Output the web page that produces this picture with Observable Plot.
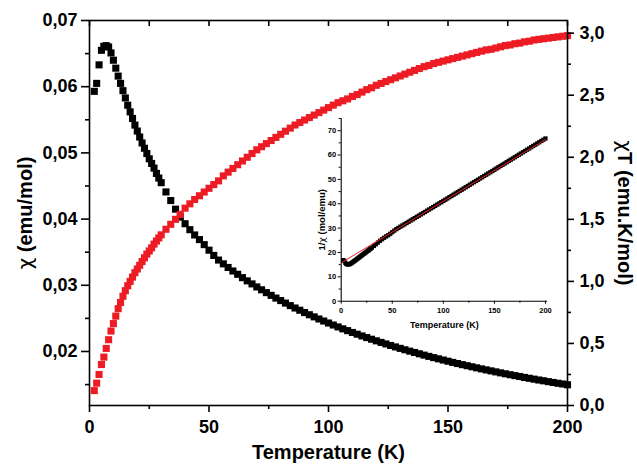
<!DOCTYPE html>
<html>
<head>
<meta charset="utf-8">
<script src="https://cdn.jsdelivr.net/npm/d3@7"></script>
<script src="https://cdn.jsdelivr.net/npm/@observablehq/plot@0.6"></script>
<style>
html, body { margin: 0; padding: 0; background: #fff; }
#wrap { position: relative; width: 637px; height: 464px; }
#main { position: absolute; left: 0; top: 0; }
#inset { position: absolute; left: 290px; top: 100px; }
svg { font-family: "Liberation Sans", Arial, sans-serif; overflow: visible; }
svg text { font-weight: bold; fill: #000; }
tspan.chi { font-family: "DejaVu Sans", sans-serif; font-weight: normal; }
</style>
</head>
<body>
<div id="wrap"><div id="main"></div><div id="inset"></div></div>
<script>
// Temperature (K)
const temperature = [2,3,4,5,6,7,8,9,10,11,12,13,14,15,16,17,18,19,20,21,22,23,24,25,26,27,28,29,30,
  32,34,36,38,40,42,44,46,48,50,52,54,56,58,60,62,64,66,68,70,72,74,76,78,80,82,84,86,88,90,92,94,96,98,100,
  102,104,106,108,110,112,114,116,118,120,122,124,126,128,130,132,134,136,138,140,142,144,146,148,150,
  152,154,156,158,160,162,164,166,168,170,172,174,176,178,180,182,184,186,188,190,192,194,196,198,200];
// chi (emu/mol), black squares, left axis
const chi = [0.0593,0.0605,0.0633,0.0655,0.0661,0.0662,0.0660,0.0651,0.0640,0.0628,0.0616,0.0605,0.0594,0.0583,0.0572,0.0562,0.0552,0.0542,0.0533,0.0524,0.0515,0.0507,0.0499,0.0491,0.0484,0.0477,0.0469,0.0462,0.0455,
  0.0441,0.0428,0.0415,0.0403,0.0393,0.0384,0.0376,0.0369,0.03614,0.03530,0.03451,0.03381,0.03324,0.03269,0.03216,0.03166,0.03115,0.03067,0.03021,0.02975,0.02932,0.02889,0.02848,0.02807,0.02769,0.02731,0.02693,0.02657,0.02623,0.02588,0.02555,0.02523,0.02491,0.02460,0.02430,
  0.02400,0.02371,0.02342,0.02315,0.02287,0.02261,0.02235,0.02210,0.02185,0.02161,0.02137,0.02114,0.02091,0.02069,0.02047,0.02026,0.02005,0.01985,0.01965,0.01945,0.01926,0.01907,0.01889,0.01871,0.01853,
  0.01835,0.01818,0.01801,0.01785,0.01769,0.01753,0.01737,0.01722,0.01707,0.01692,0.01677,0.01663,0.01649,0.01635,0.01622,0.01608,0.01595,0.01582,0.01569,0.01557,0.01544,0.01532,0.01520,0.01509,0.01497];
// chi*T (emu.K/mol), red squares, right axis
const chiT = [0.12,0.18,0.25,0.33,0.39,0.46,0.53,0.60,0.66,0.72,0.78,0.83,0.88,0.925,0.965,1.00,1.035,1.07,1.10,1.13,1.16,1.19,1.22,1.245,1.27,1.30,1.325,1.35,1.375,
  1.42,1.46,1.50,1.54,1.59,1.625,1.66,1.69,1.72,1.75,1.78,1.81,1.85,1.88,1.91,1.94,1.97,2.00,2.03,2.06,2.085,2.11,2.135,2.16,2.185,2.21,2.235,2.26,2.28,2.30,2.32,2.34,2.36,2.38,2.40,
  2.42,2.44,2.455,2.47,2.49,2.505,2.525,2.545,2.56,2.58,2.595,2.61,2.625,2.64,2.655,2.67,2.685,2.70,2.715,2.73,2.74,2.755,2.765,2.775,2.785,
  2.795,2.805,2.815,2.825,2.835,2.845,2.855,2.865,2.87,2.88,2.89,2.90,2.905,2.915,2.92,2.93,2.935,2.945,2.95,2.955,2.96,2.965,2.97,2.975,2.98];
// Inset linear fit of 1/chi
const fitT = [1, 200];
const fitInvChi = [16.0, 66.3];

// Tick values
const xTicks = [0, 50, 100, 150, 200];
const xMinor = [25, 75, 125, 175];
const leftTicks = [0.02, 0.03, 0.04, 0.05, 0.06, 0.07];
const leftMinor = [0.015, 0.025, 0.035, 0.045, 0.055, 0.065];
const rightTicks = [0, 0.5, 1.0, 1.5, 2.0, 2.5, 3.0];
const rightMinor = [0.25, 0.75, 1.25, 1.75, 2.25, 2.75];
const insetXTicks = [0, 50, 100, 150, 200];
const insetXMinor = [25, 75, 125, 175];
const insetYTicks = [0, 10, 20, 30, 40, 50, 60, 70];
const insetYMinor = [5, 15, 25, 35, 45, 55, 65, 75];

// Labels
const xLabel = "Temperature (K)";
const yLeftLabel = "χ (emu/mol)";
const yRightLabel = "χT (emu.K/mol)";
const insetYLabel = "1/χ (mol/emu)";

const leftDomain = [0.01184, 0.07];
const rightDomain = [0, 3.102];

const RED = "#ed1c24";
const data = temperature.map((T, i) => ({T, chi: chi[i], chiT: chiT[i]}));
const fit = fitT.map((T, i) => ({T, v: fitInvChi[i]}));
const conv = d3.scaleLinear().domain(rightDomain).range(leftDomain);
const comma = (d, n) => d.toFixed(n).replace(".", ",");
const none = () => "";
const title = {text: d => d, textAnchor: "middle", lineAnchor: "middle", fontWeight: "bold"};

const main = Plot.plot({
  width: 637, height: 464,
  marginLeft: 89, marginRight: 70, marginTop: 20, marginBottom: 59,
  style: {background: "transparent", color: "#000", fontFamily: "Liberation Sans, Arial, sans-serif"},
  x: {domain: [0, 200], axis: null},
  y: {domain: leftDomain, axis: null},
  marks: [
    Plot.dot(data, {x: "T", y: "chi", symbol: "square", r: 4.0, fill: "#000", stroke: "none"}),
    Plot.dot(data, {x: "T", y: d => conv(d.chiT), symbol: "square", r: 4.0, fill: RED, stroke: "none"}),
    Plot.frame({stroke: "#000", strokeWidth: 1.6}),
    Plot.axisX(xTicks, {anchor: "bottom", tickSize: 7, tickPadding: 8, fontSize: 18, strokeWidth: 1.6, tickFormat: d => String(d), label: null}),
    Plot.axisX(xMinor, {anchor: "bottom", tickSize: 4, strokeWidth: 1.6, tickFormat: none, label: null}),
    Plot.axisX([...xTicks, ...xMinor], {anchor: "top", tickSize: 5, dy: 5, strokeWidth: 1.6, tickFormat: none, label: null}),
    Plot.axisY(leftTicks, {anchor: "left", tickSize: 8, tickPadding: 4, fontSize: 18, strokeWidth: 1.6, tickFormat: d => comma(d, 2), label: null}),
    Plot.axisY(leftMinor, {anchor: "left", tickSize: 4, strokeWidth: 1.6, tickFormat: none, label: null}),
    Plot.axisY(rightTicks.map(conv), {anchor: "right", tickSize: 6, tickPadding: 6, fontSize: 18, strokeWidth: 1.6, tickFormat: d => comma(conv.invert(d), 1), label: null}),
    Plot.axisY(rightMinor.map(conv), {anchor: "right", tickSize: 3, strokeWidth: 1.6, tickFormat: none, label: null}),
    Plot.text([yLeftLabel], {...title, frameAnchor: "left", dx: -64, rotate: -90, fontSize: 20}),
    Plot.text([yRightLabel], {...title, frameAnchor: "right", dx: 57, rotate: 90, fontSize: 20}),
    Plot.text([xLabel], {...title, frameAnchor: "bottom", dy: 47, fontSize: 20})
  ]
});
document.getElementById("main").appendChild(main);

const inset = Plot.plot({
  width: 280, height: 240,
  marginLeft: 50.7, marginRight: 23, marginTop: 18, marginBottom: 39.3,
  style: {background: "transparent", color: "#000", fontFamily: "Liberation Sans, Arial, sans-serif"},
  x: {domain: [0, 202], axis: null},
  y: {domain: [0, 75], axis: null},
  marks: [
    Plot.dot(data, {x: "T", y: d => 1 / d.chi, symbol: "square", r: 2.4, fill: "#000", stroke: "none"}),
    Plot.line(fit, {x: "T", y: "v", stroke: RED, strokeWidth: 1}),
    Plot.ruleX([0], {stroke: "#000", strokeWidth: 1.1}),
    Plot.ruleY([0], {stroke: "#000", strokeWidth: 1.1}),
    Plot.axisX(insetXTicks, {anchor: "bottom", tickSize: 3, tickPadding: 3, fontSize: 7.5, tickFormat: d => String(d), label: null}),
    Plot.axisX(insetXMinor, {anchor: "bottom", tickSize: 2, tickFormat: none, label: null}),
    Plot.axisY(insetYTicks, {anchor: "left", tickSize: 3, tickPadding: 2, fontSize: 7.5, tickFormat: d => String(d), label: null}),
    Plot.axisY(insetYMinor, {anchor: "left", tickSize: 2, tickFormat: none, label: null}),
    Plot.text([insetYLabel], {...title, frameAnchor: "left", dx: -19, dy: 10, rotate: -90, fontSize: 9.5}),
    Plot.text([xLabel], {...title, frameAnchor: "bottom", dy: 24, fontSize: 9})
  ]
});
document.getElementById("inset").appendChild(inset);

// Render the Greek chi in a font with a true chi glyph (as real text, inside tspans)
for (const t of document.querySelectorAll("svg text")) {
  if (!t.textContent.includes("χ") || t.children.length) continue;
  const parts = t.textContent.split(/(χ)/);
  t.textContent = "";
  for (const p of parts) {
    if (!p) continue;
    const s = document.createElementNS("http://www.w3.org/2000/svg", "tspan");
    if (p === "χ") s.setAttribute("class", "chi");
    s.textContent = p;
    t.appendChild(s);
  }
}
</script>
</body>
</html>
